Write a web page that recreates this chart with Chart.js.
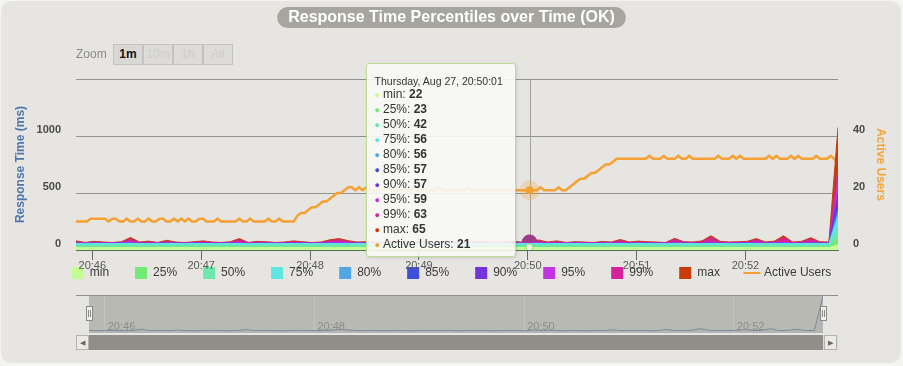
<!DOCTYPE html>
<html>
<head>
<meta charset="utf-8">
<script src="https://cdn.jsdelivr.net/npm/chart.js@4.4.1/dist/chart.umd.min.js"></script>
<style>
  body { margin: 0; background: #f4f4f2; font-family: "Liberation Sans", Arial, sans-serif; }
  .card { position: absolute; left: 1px; top: 1px; width: 900px; height: 362px; background: #e6e5e1; border-radius: 10px; }
  .main-wrap { position: absolute; left: 0; top: 0; width: 903px; height: 318px; }
  .nav-wrap { position: absolute; left: 0; top: 290px; width: 903px; height: 76px; }
  .zoom-label { position: absolute; left: 76px; top: 47px; font-size: 12px; color: #8a8a86; }
  .zoom-btn { position: absolute; top: 44px; width: 30px; height: 21px; box-sizing: border-box; border: 1px solid #c4c3bf; background: #dddcd8; font-size: 12px; line-height: 19px; text-align: center; color: #cfcecb; }
  .zoom-btn.active { color: #111; font-weight: bold; background: #d9d8d4; }
  #tip { position: absolute; top: 63px; width: 150px; height: 194px; box-sizing: border-box; display: none;
         background: rgba(248,248,246,0.9); border: 1px solid #b7dd98; border-radius: 3px;
         box-shadow: 1px 1px 3px rgba(0,0,0,0.12); padding: 10px 0 0 8px; font-size: 12px; color: #333; }
  .tip-title { font-size: 10.5px; line-height: 14px; margin-bottom: -1px; }
  .tip-row { line-height: 15px; height: 15px; white-space: nowrap; }
  .tip-row .dot { font-size: 9px; margin-right: 3px; }
  .nav-line { position: absolute; left: 76px; top: 295px; width: 762px; height: 1px; background: #8e8e8a; }
  .scroll-track { position: absolute; left: 76px; top: 335px; width: 762px; height: 15px; background: #dcdbd7; }
  .scroll-bar { position: absolute; left: 89px; top: 335px; width: 734px; height: 15px; background: #8f8e89; }
  .scroll-btn { position: absolute; top: 335px; width: 13px; height: 15px; box-sizing: border-box; background: #ebeae6; border: 1px solid #b3b2ae; font-size: 7px; line-height: 13px; text-align: center; color: #666; }
  .handle { position: absolute; top: 306px; width: 7px; height: 15px; box-sizing: border-box; background: #efefed; border: 1px solid #8a8a86; }
  .handle::before, .handle::after { content: ""; position: absolute; top: 3px; width: 1px; height: 7px; background: #8a8a86; }
  .handle::before { left: 1px; } .handle::after { left: 3px; }
</style>
</head>
<body>
<div class="card"></div>
<div class="main-wrap"><canvas id="percentile-chart"></canvas></div>
<div class="nav-line"></div>
<div class="nav-wrap"><canvas id="navigator-chart"></canvas></div>
<div class="scroll-track"></div>
<div class="scroll-bar"></div>
<div class="scroll-btn" style="left:76px">&#9664;</div>
<div class="scroll-btn" style="left:824px">&#9654;</div>
<div class="handle" style="left:86px"></div>
<div class="handle" style="left:820px"></div>
<div class="zoom-label">Zoom</div>
<div class="zoom-btn active" style="left:113px">1m</div>
<div class="zoom-btn" style="left:143px">10m</div>
<div class="zoom-btn" style="left:173px">1h</div>
<div class="zoom-btn" style="left:203px">All</div>
<div id="tip"></div>

<script>
// Data: seconds after 20:45:00
const percentileSeconds = [];
for (let t = 51; t <= 471; t += 5) percentileSeconds.push(t);
const userSeconds = [];
for (let t = 51; t <= 471; t += 2) userSeconds.push(t);

const minMs = [22,21,22,22,21,22,23,22,21,22, 22,21,22,22,22,21,22,23,22,22, 21,22,22,21,22,22,22,21,22,23, 22,22,21,22,22,22,21,22,22,22, 21,22,22,21,22,22,22,21,22,22, 22,21,22,22,21,22,22,22,21,22, 22,21,22,22,22,21,22,22,21,22, 22,22,21,22,22,21,22,22,22,21, 22,22,21,22,45];
const p25Ms = [24,23,24,23,24,24,25,23,24,23, 24,23,24,24,23,24,23,25,24,23, 24,24,23,24,23,24,24,23,24,25, 24,23,24,23,24,24,23,24,23,24, 24,23,24,24,23,24,23,24,24,23, 23,24,23,24,24,23,24,24,23,24, 24,23,24,24,23,24,24,23,24,24, 23,24,24,23,24,24,23,24,23,24, 24,23,24,24,110];
const p50Ms = [42,41,43,42,41,43,44,42,41,42, 43,42,41,43,42,42,41,43,42,41, 42,43,41,42,42,43,41,42,43,42, 41,42,43,42,41,42,43,42,41,42, 43,42,41,42,43,42,41,42,43,42, 42,43,41,42,42,43,42,41,43,42, 42,41,43,42,42,41,43,42,42,41, 43,42,41,42,43,42,41,43,42,41, 42,43,42,41,190];
const p75Ms = [56,55,57,56,55,57,58,56,55,56, 57,56,55,57,56,56,55,57,56,55, 56,57,55,56,56,57,55,56,57,56, 55,56,57,56,55,56,57,56,55,56, 57,56,55,56,57,56,55,56,57,56, 56,57,55,56,56,57,56,55,57,56, 56,55,57,56,56,55,57,56,56,55, 57,56,55,56,57,56,55,57,56,55, 56,57,56,55,290];
const p80Ms = [57,56,58,57,56,58,59,57,56,57, 58,57,56,58,57,57,56,58,57,56, 57,58,56,57,57,58,56,57,58,57, 56,57,58,57,56,57,58,57,56,57, 58,57,56,57,58,57,56,57,58,57, 56,58,56,57,57,58,57,56,58,57, 57,56,58,57,57,56,58,57,57,56, 58,57,56,57,58,57,56,58,57,56, 57,58,57,56,340];
const p85Ms = [58,57,59,58,57,59,60,58,57,58, 59,58,57,59,58,58,57,59,58,57, 58,59,57,58,58,59,57,58,59,58, 57,58,59,58,57,58,59,58,57,58, 59,58,57,58,59,58,57,58,59,58, 57,59,57,58,58,59,58,57,59,58, 58,57,59,58,58,57,59,58,58,57, 59,58,57,58,59,58,57,59,58,57, 58,59,58,57,400];
const p90Ms = [59,58,60,59,58,61,62,59,58,59, 60,59,58,60,59,59,58,60,59,58, 59,60,58,59,59,60,58,59,60,59, 58,59,60,59,58,59,60,59,58,59, 60,59,58,59,60,59,58,59,60,59, 57,60,58,59,59,60,59,58,60,59, 59,58,60,59,59,58,60,59,59,58, 60,59,58,59,60,59,58,60,59,58, 59,60,59,58,500];
const p95Ms = [62,60,63,61,60,64,70,61,60,62, 63,61,60,64,61,62,60,63,66,60, 61,63,60,62,61,63,60,62,64,66, 65,61,63,61,60,62,63,61,60,62, 63,61,60,62,63,61,60,62,63,61, 59,64,61,62,61,63,62,60,63,61, 65,60,63,62,61,60,66,62,61,60, 68,62,61,62,63,66,61,63,68,61, 62,64,62,61,580];
const p99Ms = [72,64,70,66,64,68,95,66,70,64, 75,66,64,68,72,66,64,68,88,64, 70,68,64,66,72,68,64,66,80,90, 75,66,68,66,64,72,66,64,70,66, 68,72,64,66,68,70,64,66,70,66, 63,78,66,72,64,68,66,64,68,66, 82,66,70,68,66,64,92,68,66,72, 110,70,66,68,70,90,66,70,108,66, 70,95,68,66,720];
const maxMs = [80,66,76,70,66,72,110,70,78,66, 85,70,66,72,80,70,66,72,100,66, 76,72,66,70,80,72,66,70,90,100, 82,70,72,70,66,78,70,66,76,70, 72,80,66,70,74,78,66,70,76,70, 65,88,70,80,66,72,70,66,74,70, 92,70,78,72,70,66,102,72,70,80, 125,76,70,72,76,100,70,78,125,70, 76,108,72,70,1075];

const activeUsers = [
  10,10,10,10,11,11,11,11,11,10, 11,11,10,10,11,10,10,11,10,10, 11,10,10,11,11,10,10,11,10,11,
  10,11,10,10,11,11,10,10,10,11, 10,10,10,10,10,11,10,10,11,10, 10,10,10,11,10,10,11,10,10,10,
  10,
  12,13,13,14,15,15,16,17,17,18,19,20,20,21,22,
  22,21,22,21,22,21,21,21,21,21, 22,21,21,21,21,21,21,22,21,21, 21,21,21,21,22,21,21,21,21,21,
  21,21,22,21,21,21,21,21,21,21, 21,21,21,21,21,21,21,21,21,21, 21,21,22,21,21,21,21,22,21,21,
  22,23,24,25,25,26,27,27,28,29,30,30,31,32,32,
  32,32,32,32,32,32,32,33,32,32, 32,33,32,32,32,33,32,32,33,32, 32,32,32,32,32,32,33,32,32,32,
  33,32,33,32,32,32,32,32,32,32, 33,32,33,32,32,32,33,32,33,32, 32,32,32,33,32,32,32,33,32,
  30
];

const seriesNames = ["min", "25%", "50%", "75%", "80%", "85%", "90%", "95%", "99%", "max"];
const seriesValues = [minMs, p25Ms, p50Ms, p75Ms, p80Ms, p85Ms, p90Ms, p95Ms, p99Ms, maxMs];
const seriesColors = ["#c4fd93", "#73ea73", "#6be8aa", "#5fe6e2", "#52a6e4", "#3e4fdc", "#7434dc", "#c233e2", "#d3229a", "#c83c0c"];
const usersColor = "#f5a030";

const minuteTicks = [60, 120, 180, 240, 300, 360, 420];
const navTicks = [60, 180, 300, 420];
const responseTicks = [0, 500, 1000, 1500];
const userTicks = [0, 20, 40, 60];
const tooltipDay = "Thursday, Aug 27";
const hoverPercentileIndex = 50;
const hoverUserIndex = 125;

const FONT = '"Liberation Sans", Arial, Helvetica, sans-serif';
Chart.defaults.font.family = FONT;

function clock(sec, withSeconds) {
  const m = 45 + Math.floor(sec / 60);
  let out = "20:" + String(m).padStart(2, "0");
  if (withSeconds) out += ":" + String(sec % 60).padStart(2, "0");
  return out;
}

// Title pill
const titlePill = {
  id: "titlePill",
  beforeDraw(chart) {
    const tb = chart.titleBlock;
    if (!tb) return;
    const ctx = chart.ctx;
    ctx.save();
    ctx.font = "bold 16px " + FONT;
    const w = ctx.measureText(tb.options.text).width;
    const cx = (tb.left + tb.right) / 2;
    const cy = tb.top + 8 + 9.6;
    ctx.fillStyle = "#a6a5a0";
    ctx.beginPath();
    ctx.roundRect(cx - w / 2 - 11, cy - 10.5, w + 22, 21, 10.5);
    ctx.fill();
    ctx.restore();
  },
};

// Legend sits over the x labels like the original
const legendShift = {
  id: "legendShift",
  afterLayout(chart) {
    chart.legend.top -= 29;
    chart.legend.bottom -= 29;
  },
};

// Crosshair
const crosshair = {
  id: "crosshair",
  beforeDatasetsDraw(chart) {
    const active = chart.getActiveElements();
    if (!active.length) return;
    const x = active[0].element.x;
    const { top, bottom } = chart.chartArea;
    const ctx = chart.ctx;
    ctx.save();
    ctx.strokeStyle = "#a3a3a0";
    ctx.lineWidth = 1;
    ctx.beginPath();
    ctx.moveTo(Math.round(x) + 0.5, top);
    ctx.lineTo(Math.round(x) + 0.5, bottom);
    ctx.stroke();
    ctx.restore();
  },
};

function renderTooltip(context) {
  const { chart, tooltip } = context;
  const tip = document.getElementById("tip");
  if (!tooltip.dataPoints || !tooltip.dataPoints.length) {
    tip.style.display = "none";
    return;
  }
  let html = `<div class="tip-title">${tooltipDay}, ${clock(tooltip.dataPoints[0].raw.x, true)}</div>`;
  tooltip.dataPoints.forEach((dp) => {
    html += `<div class="tip-row"><span class="dot" style="color:${dp.dataset.borderColor}">&#9679;</span>${dp.dataset.label}: <b>${dp.raw.y}</b></div>`;
  });
  tip.innerHTML = html;
  tip.style.display = "block";
  tip.style.left = chart.canvas.offsetLeft + tooltip.caretX - 164 + "px";
}

const datasets = seriesNames.map((name, i) => ({
  label: name,
  data: percentileSeconds.map((t, k) => ({ x: t, y: seriesValues[i][k] })),
  borderColor: seriesColors[i],
  backgroundColor: seriesColors[i],
  borderWidth: 1,
  fill: "origin",
  pointRadius: 0,
  pointHoverRadius: 0,
  yAxisID: "y",
}));
datasets[9].pointHoverRadius = 8;
datasets[9].pointHoverBackgroundColor = "#9b3d86";
datasets[9].pointHoverBorderWidth = 0;
datasets[0].pointHoverRadius = 3.5;
datasets[0].pointHoverBackgroundColor = "#eefbe2";
datasets[0].pointHoverBorderColor = "#9ad47a";
datasets[0].pointHoverBorderWidth = 1;

datasets.push({
  label: "Active Users",
  data: userSeconds.map((t, k) => ({ x: t, y: activeUsers[k] })),
  borderColor: usersColor,
  backgroundColor: usersColor,
  borderWidth: 2.5,
  fill: false,
  pointRadius: 0,
  pointHoverRadius: 4,
  pointHoverBackgroundColor: usersColor,
  pointHoverBorderColor: "rgba(245,160,48,0.25)",
  pointHoverBorderWidth: 12,
  yAxisID: "y1",
});

const percentileChart = document.querySelector("#percentile-chart");
const chart = new Chart(percentileChart, {
  type: "line",
  data: { datasets },
  plugins: [titlePill, legendShift, crosshair],
  options: {
    responsive: true,
    maintainAspectRatio: false,
    animation: false,
    events: [],
    layout: { padding: { left: 0, right: 0, top: 0, bottom: 0 } },
    elements: { line: { tension: 0 } },
    plugins: {
      title: {
        display: true,
        text: "Response Time Percentiles over Time (OK)",
        color: "#ffffff",
        font: { size: 16, weight: "bold", lineHeight: 1.2 },
        padding: { top: 8, bottom: 51.8 },
      },
      legend: {
        position: "bottom",
        labels: {
          usePointStyle: true,
          boxWidth: 12,
          boxHeight: 12,
          padding: 26,
          color: "#3a3a3a",
          font: { size: 12 },
          generateLabels(c) {
            const items = Chart.defaults.plugins.legend.labels.generateLabels(c);
            items.forEach((item) => {
              const ds = c.data.datasets[item.datasetIndex];
              if (ds.yAxisID === "y1") {
                item.pointStyle = "line";
                item.lineWidth = 2;
                item.strokeStyle = ds.borderColor;
              } else {
                item.pointStyle = "rect";
                item.lineWidth = 0;
                item.fillStyle = ds.backgroundColor;
              }
            });
            return items;
          },
        },
      },
      tooltip: { enabled: false, external: renderTooltip },
    },
    scales: {
      x: {
        type: "linear",
        min: 51,
        max: 471,
        afterBuildTicks(scale) {
          scale.ticks = minuteTicks.map((v) => ({ value: v }));
        },
        afterFit(scale) {
          scale.height = 20;
        },
        grid: { drawOnChartArea: false, drawTicks: true, tickLength: 10, color: "#6a6a6a" },
        border: { display: true, color: "#55704c" },
        ticks: {
          callback: (v) => clock(v, false),
          color: "#5a5a5a",
          font: { size: 11 },
          padding: -1,
          maxRotation: 0,
          autoSkip: false,
        },
      },
      y: {
        position: "left",
        min: 0,
        max: 1500,
        afterBuildTicks(scale) {
          scale.ticks = responseTicks.map((v) => ({ value: v }));
        },
        afterFit(scale) {
          scale.width = 76;
        },
        title: {
          display: true,
          text: "Response Time (ms)",
          color: "#4f77ab",
          font: { size: 12, weight: "bold" },
          padding: { top: 13.8 },
        },
        ticks: {
          callback: (v) => (v === 1500 ? "" : v),
          color: "#4a4a4a",
          font: { size: 11, weight: "bold" },
          padding: 15,
          labelOffset: -6,
        },
        grid: { color: "#919190", drawTicks: false },
        border: { display: false },
      },
      y1: {
        position: "right",
        min: 0,
        max: 60,
        afterBuildTicks(scale) {
          scale.ticks = userTicks.map((v) => ({ value: v }));
        },
        afterFit(scale) {
          scale.width = 65;
        },
        title: {
          display: true,
          text: "Active Users",
          color: "#f4a63a",
          font: { size: 12, weight: "bold" },
          padding: { top: 15.8 },
        },
        ticks: {
          callback: (v) => (v === 60 ? "" : v),
          color: "#4a4a4a",
          font: { size: 11, weight: "bold" },
          padding: 15,
          labelOffset: -6,
        },
        grid: { drawOnChartArea: false, drawTicks: false },
        border: { display: false },
      },
    },
  },
});

const hoverElements = datasets.map((ds, i) => ({
  datasetIndex: i,
  index: i < 10 ? hoverPercentileIndex : hoverUserIndex,
}));
chart.setActiveElements(hoverElements);
chart.tooltip.setActiveElements(hoverElements, { x: 0, y: 0 });
chart.update();

// Navigator
const navBackground = {
  id: "navBackground",
  beforeDraw(c) {
    const { left, top, width, height } = c.chartArea;
    c.ctx.save();
    c.ctx.fillStyle = "#b9b9b3";
    c.ctx.fillRect(left, top, width, height);
    c.ctx.restore();
  },
};

const navLabels = {
  id: "navLabels",
  afterDraw(c) {
    const scale = c.scales.x;
    const ctx = c.ctx;
    ctx.save();
    ctx.font = "11px " + FONT;
    ctx.fillStyle = "#8d8d89";
    ctx.textBaseline = "middle";
    scale.ticks.forEach((tick) => {
      ctx.fillText(clock(tick.value, false), scale.getPixelForValue(tick.value) + 3, c.chartArea.bottom - 6);
    });
    ctx.restore();
  },
};

const navigatorChart = document.querySelector("#navigator-chart");
new Chart(navigatorChart, {
  type: "line",
  data: {
    datasets: [
      {
        label: "max",
        data: percentileSeconds.map((t, k) => ({ x: t, y: maxMs[k] })),
        borderColor: "#7b8aa0",
        backgroundColor: "rgba(69,114,167,0.05)",
        borderWidth: 1,
        fill: "origin",
        pointRadius: 0,
      },
    ],
  },
  plugins: [navBackground, navLabels],
  options: {
    responsive: true,
    maintainAspectRatio: false,
    animation: false,
    events: [],
    layout: { padding: { left: 89, right: 80, top: 6, bottom: 33 } },
    plugins: { legend: { display: false }, tooltip: { enabled: false } },
    scales: {
      x: {
        type: "linear",
        min: 51,
        max: 471,
        afterBuildTicks(scale) {
          scale.ticks = navTicks.map((v) => ({ value: v }));
        },
        afterFit(scale) {
          scale.height = 0;
        },
        grid: { color: "rgba(255,255,255,0.18)", drawTicks: false },
        border: { display: false },
        ticks: { display: false },
      },
      y: { display: false, min: 0, bounds: "data" },
    },
  },
});
</script>
</body>
</html>
